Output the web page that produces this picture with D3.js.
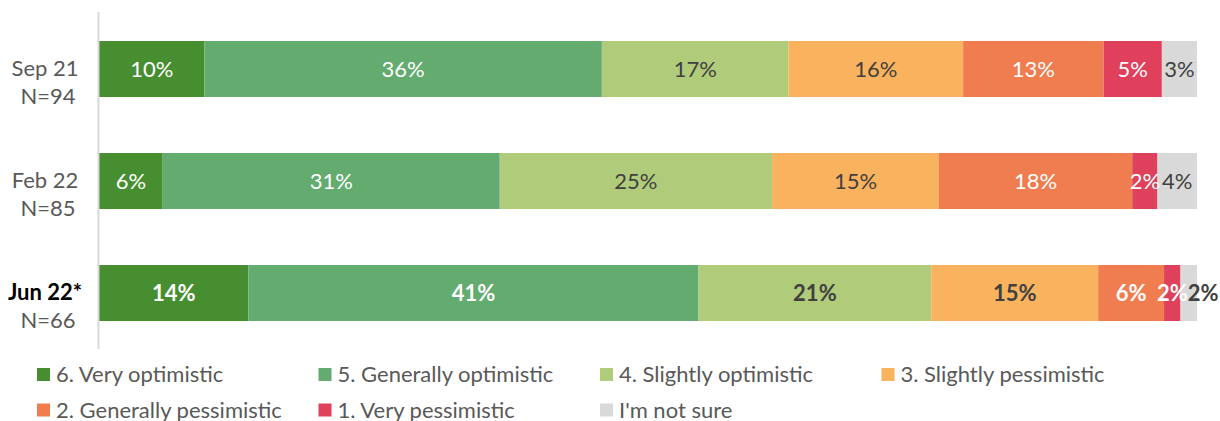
<!DOCTYPE html>
<meta charset="utf-8">
<style>
body {
  margin: 0;
  background: #fff;
  overflow: hidden;
}
svg {
  display: block;
}
svg text {
  font-family: Lato, "Open Sans", sans-serif;
}
</style>
<script src="https://cdnjs.cloudflare.com/ajax/libs/d3/7.8.5/d3.min.js"></script>
<body></body>
<script>

// survey waves
var waves = ['Sep 21', 'Feb 22', 'Jun 22*'];
var sampleSizes = ['N=94', 'N=85', 'N=66'];

// answer categories, most optimistic first
var answers = [
  '6. Very optimistic',
  '5. Generally optimistic',
  '4. Slightly optimistic',
  '3. Slightly pessimistic',
  '2. Generally pessimistic',
  '1. Very pessimistic',
  "I'm not sure"
];

// share of respondents (%), one array per wave
var sep21 = [9.6, 36.2, 17.0, 15.9, 12.8, 5.3, 3.2];
var feb22 = [5.8, 30.7, 24.8, 15.2, 17.6, 2.3, 3.6];
var jun22 = [13.6, 41.0, 21.2, 15.2, 6.0, 1.5, 1.5];

var colors = ['#478e30', '#63ab6e', '#b0cc7a', '#f9b25e', '#ef7d50', '#df405b', '#d9d9d9'];
var labelColors = ['#fff', '#fff', '#404040', '#404040', '#fff', '#fff', '#404040'];

var width = 1220;
var height = 421;

var rows = [sep21, feb22, jun22];

var x = d3.scaleLinear()
  .domain([0, 100])
  .range([99, 1197]);

var y = d3.scaleBand()
  .domain(waves)
  .range([13, 349])
  .paddingInner(0.5)
  .paddingOuter(0.25);

var svg = d3.select('body').append('svg')
  .attr('width', width)
  .attr('height', height);

// stack each wave
var stacked = rows.map(function(vals, r) {
  var acc = 0;
  return vals.map(function(v, i) {
    var seg = { wave: waves[r], row: r, i: i, v: v, x0: acc, x1: acc + v };
    acc += v;
    return seg;
  });
});

var rowG = svg.selectAll('g.row')
  .data(stacked)
  .enter().append('g')
  .attr('class', 'row');

rowG.selectAll('rect')
  .data(function(d) { return d; })
  .enter().append('rect')
  .attr('x', function(d) { return x(d.x0); })
  .attr('y', function(d) { return y(d.wave); })
  .attr('width', function(d) { return x(d.x1) - x(d.x0); })
  .attr('height', y.bandwidth())
  .attr('fill', function(d) { return colors[d.i]; });

rowG.selectAll('text')
  .data(function(d) { return d; })
  .enter().append('text')
  .attr('x', function(d) { return (x(d.x0) + x(d.x1)) / 2; })
  .attr('y', function(d) { return y(d.wave) + y.bandwidth() / 2 + 7.5; })
  .attr('text-anchor', 'middle')
  .attr('font-size', 22)
  .attr('font-weight', function(d) { return d.row === 2 ? 'bold' : 'normal'; })
  .attr('fill', function(d) { return labelColors[d.i]; })
  .text(function(d) { return Math.round(d.v) + '%'; });

// push a label right when it runs into the one before it (like excel does)
rowG.each(function() {
  var prevRight = -Infinity;
  d3.select(this).selectAll('text').each(function() {
    var t = d3.select(this);
    var w = this.getComputedTextLength();
    var cx = +t.attr('x');
    if (cx - w / 2 < prevRight) {
      cx = prevRight + w / 2;
      t.attr('x', cx);
    }
    prevRight = cx + w / 2;
  });
});

// category axis line
svg.append('line')
  .attr('x1', 98.5).attr('x2', 98.5)
  .attr('y1', 12).attr('y2', 349)
  .attr('stroke', '#d9d9d9')
  .attr('stroke-width', 2);

// wave labels
var waveG = svg.selectAll('g.wave')
  .data(waves)
  .enter().append('g')
  .attr('class', 'wave');

waveG.append('text')
  .attr('x', 45)
  .attr('y', function(d) { return y(d) + y.bandwidth() / 2 + 7; })
  .attr('text-anchor', 'middle')
  .attr('font-size', 22)
  .attr('font-weight', function(d, i) { return i === 2 ? 'bold' : 'normal'; })
  .attr('fill', function(d, i) { return i === 2 ? '#000' : '#595959'; })
  .text(function(d) { return d; });

waveG.append('text')
  .attr('x', 48)
  .attr('y', function(d) { return y(d) + y.bandwidth() / 2 + 35; })
  .attr('text-anchor', 'middle')
  .attr('font-size', 22)
  .attr('fill', '#595959')
  .text(function(d, i) { return sampleSizes[i]; });

// legend, 4 columns
var legend = svg.selectAll('g.legend')
  .data(answers)
  .enter().append('g')
  .attr('class', 'legend')
  .attr('transform', function(d, i) {
    return 'translate(' + (37 + (i % 4) * 281.5) + ',' + (374.5 + Math.floor(i / 4) * 35.5) + ')';
  });

legend.append('rect')
  .attr('x', 0)
  .attr('y', -6.5)
  .attr('width', 13)
  .attr('height', 13)
  .attr('fill', function(d, i) { return colors[i]; });

legend.append('text')
  .attr('x', 19)
  .attr('y', 7.5)
  .attr('font-size', 22)
  .attr('fill', '#595959')
  .text(function(d) { return d; });

</script>
